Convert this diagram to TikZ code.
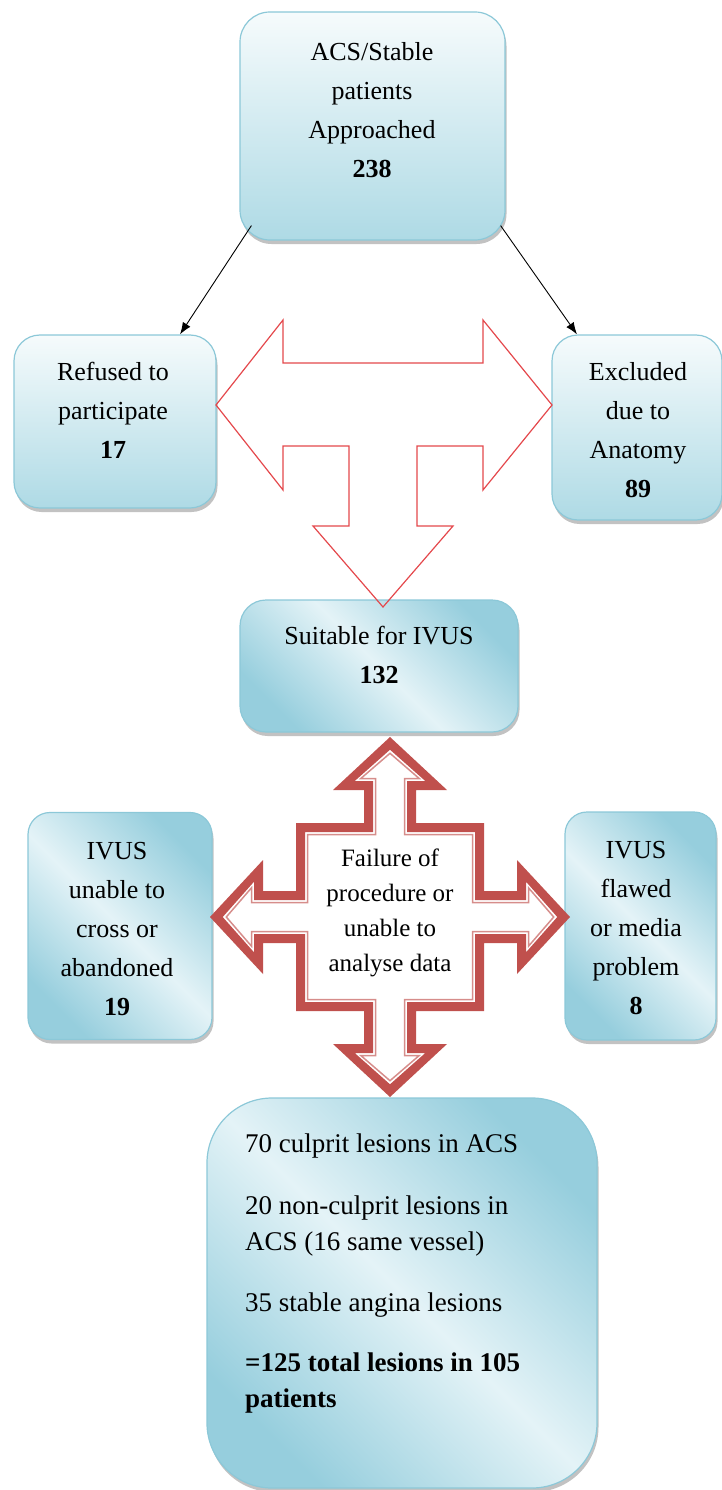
\documentclass[tikz,border=0pt]{standalone}
\usepackage{fontspec}
\setmainfont{Liberation Serif}
\usepackage{tikz}
\usetikzlibrary{shadows,arrows.meta}
\definecolor{boxedge}{RGB}{140,200,216}
\definecolor{boxlight}{RGB}{246,251,252}
\definecolor{boxblue}{RGB}{174,218,229}
\definecolor{boxdeep}{RGB}{150,206,221}
\definecolor{boxpale}{RGB}{228,243,247}
\definecolor{splitred}{RGB}{228,72,76}
\definecolor{crossred}{RGB}{192,80,77}
\tikzstyle{stage}=[
        draw=boxedge,
        line width=1.2pt,
        rounded corners=26pt,
        top color=boxlight,
        bottom color=boxblue,
        drop shadow={shadow xshift=1.5pt, shadow yshift=-4pt, opacity=.4, fill=black!60}
]
\tikzstyle{result}=[
        stage,
        top color=boxdeep,
        bottom color=boxdeep,
        middle color=boxpale,
        shading angle=-45
]
\tikzstyle{boxtext}=[
        align=center,
        inner sep=0pt,
        font=\fontsize{26}{39}\selectfont
]
% up tip, head base, head half width, shaft half width, centre half size
\newcommand{\crossoutline}[5]{(0,#1) -- (#3,#2) -- (#4,#2) -- (#4,#5) -- (#5,#5) -- (#5,#4) -- (#2,#4) -- (#2,#3) -- (#1,0) -- (#2,-#3) -- (#2,-#4) -- (#5,-#4) -- (#5,-#5) -- (#4,-#5) -- (#4,-#2) -- (#3,-#2) -- (0,-#1) -- (-#3,-#2) -- (-#4,-#2) -- (-#4,-#5) -- (-#5,-#5) -- (-#5,-#4) -- (-#2,-#4) -- (-#2,-#3) -- (-#1,0) -- (-#2,#3) -- (-#2,#4) -- (-#5,#4) -- (-#5,#5) -- (-#4,#5) -- (-#4,#2) -- (-#3,#2) -- cycle}

\begin{document}
\begin{tikzpicture}[x=1pt,y=1pt]
                        \useasboundingbox (0,0) rectangle (721,-1490);

                        % boxes
                        \node[stage, minimum width=265pt, minimum height=228pt, rounded corners=30pt] (approached) at (372.5,-126) {};
                        \node[boxtext] (approachedtext) at (372,-110) {ACS/Stable\\patients\\Approached\\\textbf{238}};

                        \node[stage, minimum width=202pt, minimum height=173pt] (refused) at (115,-421.5) {};
                        \node[boxtext] (refusedtext) at (113,-410) {Refused to\\participate\\\textbf{17}};

                        \node[stage, minimum width=170pt, minimum height=185pt] (excluded) at (637,-427.5) {};
                        \node[boxtext] (excludedtext) at (638,-430.5) {Excluded\\due to\\Anatomy\\\textbf{89}};

                        \node[result, minimum width=278pt, minimum height=132pt] (suitable) at (379,-666) {};
                        \node[boxtext] (suitabletext) at (379,-655) {Suitable for IVUS\\\textbf{132}};

                        \node[result, minimum width=184pt, minimum height=227pt, rounded corners=22pt] (uncrossed) at (120,-926) {};
                        \node[boxtext] (uncrossedtext) at (117,-929) {IVUS\\unable to\\cross or\\abandoned\\\textbf{19}};

                        \node[result, minimum width=151pt, minimum height=228pt, rounded corners=22pt] (flawed) at (640.5,-926) {};
                        \node[boxtext] (flawedtext) at (636,-928) {IVUS\\flawed\\or media\\problem\\\textbf{8}};

                        \node[result, minimum width=390pt, minimum height=390pt, rounded corners=65pt] (lesions) at (402,-1293) {};
                        \node[anchor=west, align=left, inner sep=0pt, font=\fontsize{27}{36}\selectfont] (lesionstext) at (245,-1273.5)
                            {70 culprit lesions in ACS\\[26pt]20 non-culprit lesions in\\ACS (16 same vessel)\\[25pt]35 stable angina lesions\\[24pt]\textbf{=125 total lesions in 105}\\\textbf{patients}};

                        % connectors
                        \draw[-{Latex[length=12pt,width=9pt]}, line width=0.9pt] ([shift={(12,15)}]approached.south west) -- ([xshift=65pt]refused.north);
                        \draw[-{Latex[length=12pt,width=9pt]}, line width=0.9pt] ([shift={(-5,15)}]approached.south east) -- ([xshift=-60pt]excluded.north);

                        % split arrow
                        \draw[splitred, line width=1.2pt, line join=miter] (216,-405) -- (283,-320) -- (283,-363) -- (483,-363) -- (483,-320) -- (552,-405) -- (483,-490) -- (483,-446) -- (417,-446) -- (417,-526) -- (453,-526) -- (383,-607) -- (313,-526) -- (349,-526) -- (349,-446) -- (283,-446) -- (283,-490) -- cycle;

                        % four way arrow
                        \begin{scope}[shift={(390,-917)}]
                            \fill[crossred, even odd rule] \crossoutline{180}{127}{57}{26}{94} \crossoutline{167.3}{136}{35.3}{17}{85};
                            \draw[crossred!65, line width=1.5pt] \crossoutline{163.7}{138.5}{29.2}{14.5}{82.5};
                        \end{scope}
                        \node[boxtext, font=\fontsize{25}{35}\selectfont] (failuretext) at (390,-913) {Failure of\\procedure or\\unable to\\analyse data};

                    \end{tikzpicture}
\end{document}
